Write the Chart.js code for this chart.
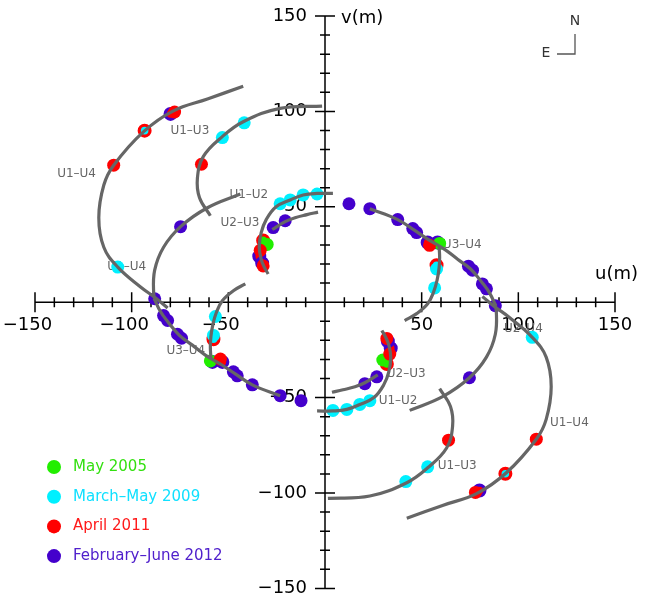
<!DOCTYPE html>
<html>
<head>
<meta charset="utf-8">
<script src="https://cdn.jsdelivr.net/npm/chart.js@4.4.1/dist/chart.umd.min.js"></script>
<style>
  html, body { margin: 0; padding: 0; background: #fff; }
  canvas { display: block; }
</style>
</head>
<body>
<canvas id="uvChart" width="650" height="597"></canvas>
<script>
// uv tracks [u, v] in metres, one half only; the other half is the point reflection (-u, -v)
const trackU1U4 = [[-42.3, 113.2], [-60.8, 106.5], [-78.4, 100.3], [-93.8, 89.4], [-109.3, 71.8], [-114.4, 61.4],
    [-117.0, 44.3], [-114.4, 28.8], [-107.2, 18.4], [-95.4, 8.0], [-87.6, 2.2], [-81.4, -3.0]];
const trackU1U3 = [[-1.5, 102.8], [-23.2, 101.6], [-42.3, 94.6], [-53.1, 86.8], [-62.9, 76.4], [-66.0, 65.0],
    [-64.9, 54.7], [-59.3, 45.3]];
const trackU2U4 = [[-43.8, 56.7], [-60.8, 49.5], [-74.7, 39.6], [-83.5, 28.8], [-88.1, 16.8], [-88.6, 4.4], [-87.6, 0.5]];
const trackU1U2 = [[4.1, 57.0], [-4.1, 57.0], [-11.3, 56.2], [-18.0, 53.6], [-25.3, 50.0], [-30.4, 43.3],
    [-33.0, 36.5], [-34.0, 28.8], [-33.0, 22.5], [-31.4, 18.4], [-29.4, 14.8]];
const trackU2U3 = [[-3.6, 47.2], [-9.3, 45.9], [-15.5, 44.3], [-20.6, 42.2], [-27.3, 38.1]];
const trackU3U4 = [[23.2, 49.0], [37.6, 43.3], [46.4, 37.6], [54.1, 32.4], [61.9, 27.7], [68.6, 22.5],
    [75.3, 17.4], [81.4, 10.1], [85.1, 4.9], [88.4, -2.0]];
const trackShort = [[59.0, 29.3], [59.3, 23.6], [59.0, 17.9], [58.0, 11.7], [56.2, 5.4], [53.1, -0.8],
    [47.4, -6.0], [41.2, -9.6]];

// observations, one half only
const obsMay2005 = [[59.3, 30.8], [-29.9, 30.3]];
const obsMarMay2009 = [[-107.2, 18.4], [-41.8, 94.0], [-53.1, 86.3], [-23.2, 51.6], [-18.0, 53.6], [-11.3, 56.2],
    [-4.1, 56.7], [56.7, 7.5], [57.7, 17.4]];
const obsApr2011 = [[-109.3, 71.8], [-77.8, 99.7], [-63.9, 72.3], [-33.5, 27.2], [-32.0, 19.0], [54.1, 29.8]];
const obsFebJun2012 = [[-74.7, 39.6], [-88.1, 1.8], [12.4, 51.6], [23.2, 49.0], [37.6, 43.3], [45.4, 38.6],
    [47.4, 36.5], [74.2, 18.9], [76.3, 16.8], [81.4, 9.6], [83.5, 7.0], [-26.8, 39.1], [-20.6, 42.7]];
// repeated points (ring = later epoch, centre = earlier epoch)
const ringRedOnCyan = [[-93.3, 89.9], [57.7, 19.4]];
const ringPurpleOnRed = [[-79.9, 98.7], [-34.0, 24.1], [-32.5, 20.5], [53.1, 31.3]];
const ringPurpleOnGreen = [[58.2, 31.3]];
const ringRedOnGreen = [[-32.0, 32.4]];

const baselineNames = ['U1–U4', 'U1–U3', 'U1–U2', 'U2–U3', 'U1–U4', 'U3–U4', 'U3–U4', 'U2–U4', 'U2–U3', 'U1–U2', 'U1–U3', 'U1–U4'];
const baselineU = [-128.5, -69.9, -39.4, -44.0, -102.6, 71.0, -72.0, 102.6, 42.0, 37.8, 68.4, 126.4];
const baselineV = [67.1, 89.9, 56.2, 41.7, 18.4, 29.8, -25.6, -14.2, -37.6, -51.6, -85.8, -63.5];

const tickLabels = [-150, -100, -50, 50, 100, 150];
const legendLabels = ['May 2005', 'March–May 2009', 'April 2011', 'February–June 2012'];

const GREEN = '#22ee00', CYAN = '#00f0ff', RED = '#ff0000', PURPLE = '#4400cc';
const legendColors = [GREEN, CYAN, RED, PURPLE];
const legendTextColors = ['#33e010', '#10e0ff', '#ff1a1a', '#5020cc'];
const THIN = '"DejaVu Sans ExtraLight", "DejaVu Sans", sans-serif';

const half = pts => pts.map(([u, v]) => ({ x: u, y: v }));
const mirror = pts => pts.map(([u, v]) => ({ x: -u, y: -v }));
const both = pts => [...half(pts), ...mirror(pts)];

const datasets = [];
[trackU1U4, trackU1U3, trackU2U4, trackU1U2, trackU2U3, trackU3U4, trackShort].forEach(t => {
    [half(t), mirror(t)].forEach(data => datasets.push({
        data, showLine: true, tension: 0.4, borderColor: '#666', borderWidth: 3.2, pointRadius: 0, fill: false
    }));
});
function dots(pts, color) {
    return { data: both(pts), showLine: false, pointRadius: 6.5, pointBorderWidth: 0,
        pointBackgroundColor: color, pointBorderColor: color };
}
function rings(pts, ring, centre) {
    return { data: both(pts), showLine: false, pointRadius: 5.4, pointBorderWidth: 3.2,
        pointBackgroundColor: centre, pointBorderColor: ring };
}
datasets.push(dots(obsFebJun2012, PURPLE), dots(obsMarMay2009, CYAN), dots(obsApr2011, RED), dots(obsMay2005, GREEN));
datasets.push(rings(ringRedOnCyan, RED, CYAN), rings(ringPurpleOnRed, PURPLE, RED),
    rings(ringPurpleOnGreen, PURPLE, GREEN), rings(ringRedOnGreen, RED, GREEN));

const uvAxes = {
    id: 'uvAxes',
    beforeDatasetsDraw(chart) {
        const { ctx, scales: { x, y } } = chart;
        const x0 = x.getPixelForValue(0), y0 = y.getPixelForValue(0);
        ctx.save();
        ctx.strokeStyle = '#000';
        ctx.lineWidth = 1.5;
        ctx.beginPath();
        ctx.moveTo(x.left, y0); ctx.lineTo(x.right, y0);
        ctx.moveTo(x0, y.top); ctx.lineTo(x0, y.bottom);
        for (let t = -150; t <= 150; t += 10) {
            const len = t % 50 === 0 ? 10 : 5;
            const px = x.getPixelForValue(t), py = y.getPixelForValue(t);
            ctx.moveTo(px, y0 - len); ctx.lineTo(px, y0 + len);
            ctx.moveTo(x0 - len, py); ctx.lineTo(x0 + len, py);
        }
        ctx.stroke();

        ctx.fillStyle = '#000';
        ctx.font = '18px ' + THIN;
        ctx.textBaseline = 'middle';
        const minusW = ctx.measureText('−').width;
        tickLabels.forEach(t => {
            const digits = String(Math.abs(t));
            const w = ctx.measureText(digits).width;
            const px = x.getPixelForValue(t);
            ctx.textAlign = 'left';
            ctx.fillText((t < 0 ? '−' : '') + digits, px - w / 2 - (t < 0 ? minusW : 0), y0 + 23);
            ctx.textAlign = 'right';
            ctx.fillText((t < 0 ? '−' : '') + digits, x0 - 18, y.getPixelForValue(t));
        });
        ctx.textAlign = 'left';
        ctx.fillText('u(m)', 595, y0 - 28);
        ctx.fillText('v(m)', x0 + 16, 18);

        ctx.fillStyle = '#666';
        ctx.font = '12px "DejaVu Sans", sans-serif';
        ctx.textAlign = 'center';
        baselineNames.forEach((name, i) => {
            ctx.fillText(name, x.getPixelForValue(baselineU[i]), y.getPixelForValue(baselineV[i]));
        });
        ctx.restore();
    },
    afterDraw(chart) {
        const { ctx } = chart;
        ctx.save();
        // legend
        ctx.font = '15px "DejaVu Sans", sans-serif';
        ctx.textBaseline = 'middle';
        ctx.textAlign = 'left';
        legendLabels.forEach((label, i) => {
            const yy = 467 + i * 29.7;
            ctx.fillStyle = legendColors[i];
            ctx.beginPath();
            ctx.arc(54, yy, 7, 0, Math.PI * 2);
            ctx.fill();
            ctx.fillStyle = legendTextColors[i];
            ctx.fillText(label, 73, yy);
        });
        // compass
        ctx.strokeStyle = '#555';
        ctx.lineWidth = 1.3;
        ctx.beginPath();
        ctx.moveTo(575, 34); ctx.lineTo(575, 54); ctx.lineTo(557, 54);
        ctx.stroke();
        ctx.fillStyle = '#333';
        ctx.font = '14px ' + THIN;
        ctx.textAlign = 'center';
        ctx.fillText('N', 575, 21);
        ctx.fillText('E', 546, 53);
        ctx.restore();
    }
};

new Chart(document.getElementById('uvChart'), {
    type: 'scatter',
    data: { datasets },
    options: {
        responsive: false,
        animation: false,
        layout: { padding: { left: 35, right: 35, top: 16, bottom: 2 } },
        scales: {
            x: { type: 'linear', min: -150, max: 150, display: false },
            y: { type: 'linear', min: -150, max: 150, display: false }
        },
        plugins: { legend: { display: false }, tooltip: { enabled: false } }
    },
    plugins: [uvAxes]
});
</script>
</body>
</html>
